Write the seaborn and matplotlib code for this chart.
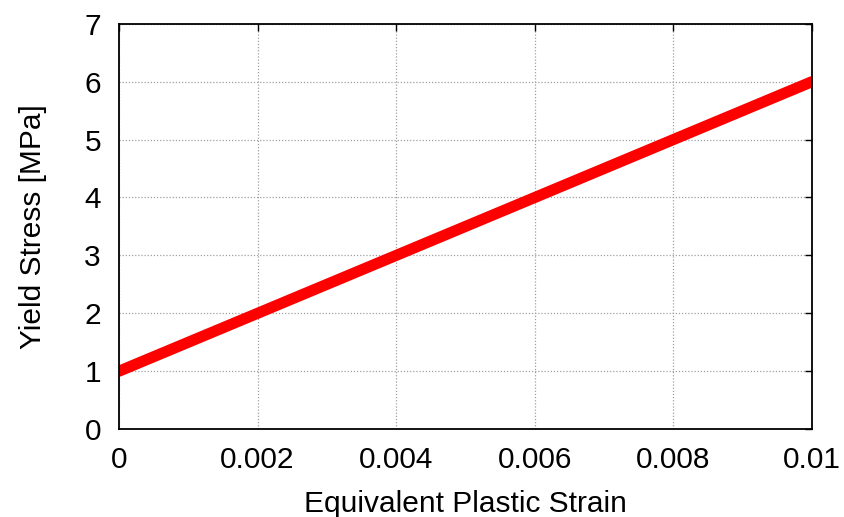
import numpy as np
import pandas as pd
import seaborn as sns
import matplotlib.pyplot as plt

strain = [0.0, 0.01]
stress = [1.0, 6.0]
xticks = [0, 0.002, 0.004, 0.006, 0.008, 0.01]
xticklabels = ["0", "0.002", "0.004", "0.006", "0.008", "0.01"]
yticks = [0, 1, 2, 3, 4, 5, 6, 7]

df = pd.DataFrame({"strain": strain, "stress": stress})

sns.set_style("white")
plt.rcParams['font.family'] = ['Liberation Sans', 'DejaVu Sans']

fig = plt.figure(figsize=(8.44, 5.17), dpi=100)
ax = fig.add_axes([0.141, 0.170, 0.821, 0.784])

sns.lineplot(data=df, x="strain", y="stress", ax=ax, color="#ff0000", linewidth=8)

ax.set_xlim(0, 0.01)
ax.set_ylim(0, 7)
ax.set_xticks(xticks)
ax.set_xticklabels(xticklabels)
ax.set_yticks(yticks)
ax.grid(True, color="#a0a0a0", linestyle=(0, (1, 1.5)), linewidth=0.9)
ax.tick_params(direction="in", length=5, width=1, top=True, right=True,
               labelsize=21.5, colors="black", labelcolor="black")
ax.tick_params(axis="x", pad=12)
ax.tick_params(axis="y", pad=13)
for s in ax.spines.values():
    s.set_color("black")
    s.set_linewidth(1.3)
ax.set_xlabel("Equivalent Plastic Strain", fontsize=21.5, labelpad=12, color="black")
ax.set_ylabel("Yield Stress [MPa]", fontsize=21.5, labelpad=27, color="black")

fig.savefig("out.png", dpi=100)
